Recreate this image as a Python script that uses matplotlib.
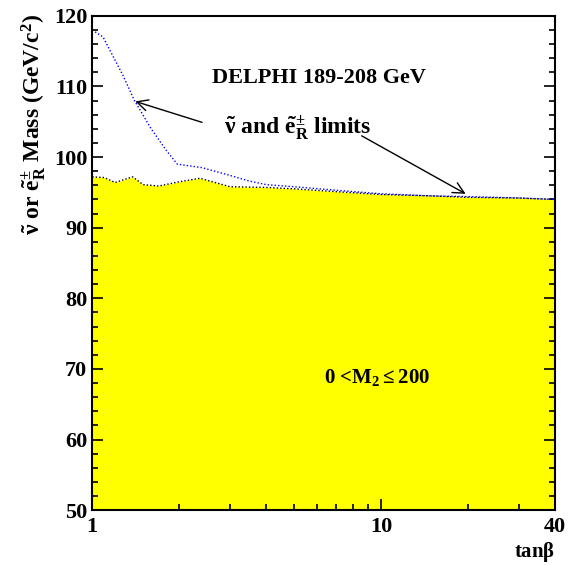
import matplotlib
matplotlib.use('Agg')
import matplotlib.pyplot as plt
from matplotlib.ticker import FixedLocator, NullFormatter

# Excluded region (yellow area, upper edge)
excl_tanb = [1.0, 1.1, 1.2, 1.38, 1.5, 1.7, 2.0, 2.36, 3.0, 4.0, 5.0, 7.0, 10.0, 15.0, 20.0, 30.0, 40.0]
excl_mass = [97.2, 97.1, 96.4, 97.2, 96.1, 95.9, 96.5, 97.0, 95.8, 95.7, 95.5, 95.1, 94.7, 94.5, 94.3, 94.2, 94.0]

# Sneutrino limit (blue dotted)
snu_tanb = [1.0, 1.09, 1.28, 1.4, 1.6, 1.8, 1.97, 2.4, 3.0, 3.5, 4.0, 5.0, 7.0, 10.0, 15.0, 20.0, 30.0, 40.0]
snu_mass = [118.0, 117.0, 111.5, 108.0, 104.0, 101.0, 99.0, 98.5, 97.4, 96.6, 96.1, 95.8, 95.3, 94.8, 94.5, 94.4, 94.2, 94.0]

plt.rcParams['font.family'] = ['Liberation Serif', 'DejaVu Serif']
plt.rcParams['mathtext.fontset'] = 'custom'
plt.rcParams['mathtext.rm'] = 'Liberation Serif:bold'
plt.rcParams['mathtext.it'] = 'Liberation Serif:bold'
plt.rcParams['mathtext.bf'] = 'Liberation Serif:bold'

fig = plt.figure(figsize=(5.8, 5.65), dpi=100)
ax = fig.add_axes([0.159, 0.097, 0.798, 0.875])

ax.fill_between(excl_tanb, 50, excl_mass, color='#ffff00', lw=0)
ax.plot(excl_tanb, excl_mass, color='black', lw=1, ls=(0, (1, 1.5)))
ax.plot(snu_tanb, snu_mass, color='blue', lw=1, ls=(0, (1, 1.5)))

ax.set_xscale('log')
ax.set_xlim(1, 40)
ax.set_ylim(50, 120)

ax.xaxis.set_major_locator(FixedLocator([1, 10, 40]))
ax.xaxis.set_minor_locator(FixedLocator([2, 3, 4, 5, 6, 7, 8, 9, 20, 30]))
ax.set_xticklabels(['1', '10', '40'], fontsize=16, fontweight='bold')
ax.xaxis.set_minor_formatter(NullFormatter())
ax.set_yticks(range(50, 121, 10))
ax.set_yticks(range(50, 121, 2), minor=True)
ax.set_yticklabels([str(v) for v in range(50, 121, 10)], fontsize=16, fontweight='bold')

ax.tick_params(which='both', direction='in', right=True, top=False, width=1.2)
ax.tick_params(which='major', length=8)
ax.tick_params(which='minor', length=4)
ax.tick_params(axis='x', pad=5)
for s in ax.spines.values():
    s.set_linewidth(1.5)

ax.text(0.49, 0.875, 'DELPHI 189-208 GeV', transform=ax.transAxes, ha='center',
        va='center', fontsize=16, fontweight='bold')
ax.text(0.445, 0.772, r'$\tilde{\nu}$ and $\tilde{e}^{\pm}_{R}$ limits', transform=ax.transAxes,
        ha='center', va='center', fontsize=17, fontweight='bold')
ax.text(0.615, 0.268, r'0 <M$_2$$\leq$200', transform=ax.transAxes, ha='center',
        va='center', fontsize=15, fontweight='bold')

ax.annotate('', xy=(1.38, 108.0), xytext=(2.45, 104.8),
            arrowprops=dict(arrowstyle='->', color='black', lw=1, mutation_scale=20))
ax.annotate('', xy=(20.0, 94.6), xytext=(8.4, 103.2),
            arrowprops=dict(arrowstyle='->', color='black', lw=1, mutation_scale=20))

ax.set_ylabel(r'$\tilde{\nu}$ or $\tilde{e}^{\pm}_{R}$ Mass (GeV/c$^2$)', fontsize=17,
              fontweight='bold')
ax.yaxis.set_label_coords(-0.095, 0.78)
ax.set_xlabel(r'tan$\beta$', fontsize=15, fontweight='bold')
ax.xaxis.set_label_coords(0.955, -0.06)

fig.savefig('out.png', dpi=100)
